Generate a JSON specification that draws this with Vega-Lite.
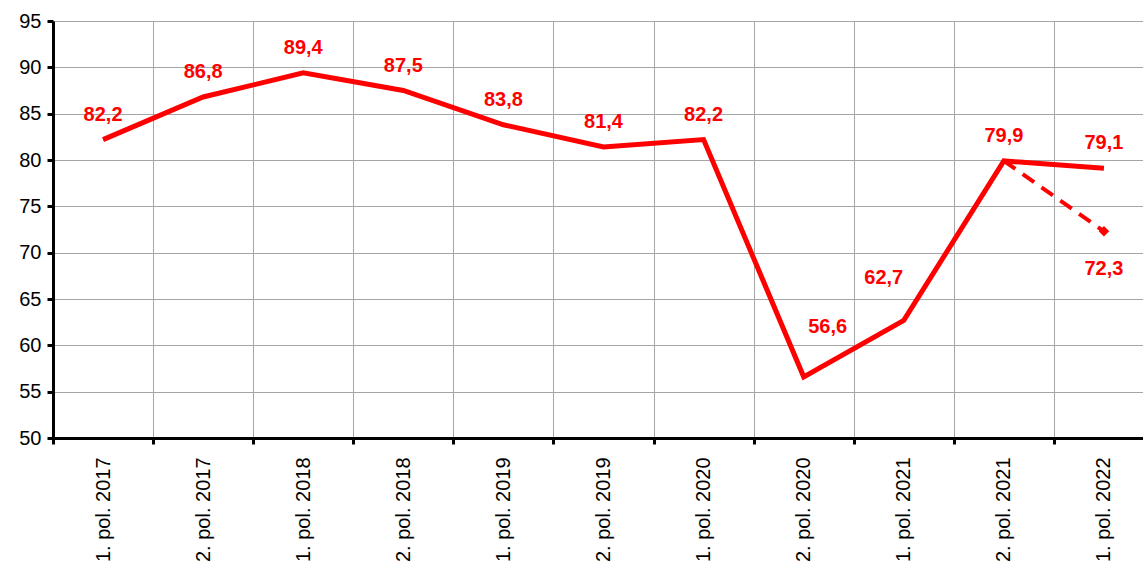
{
  "$schema": "https://vega.github.io/schema/vega-lite/v6.json",
  "width": 1090,
  "height": 417,
  "padding": {"left": 53, "top": 21, "right": 0, "bottom": 130},
  "autosize": {"type": "none"},
  "background": "white",
  "config": {
    "view": {"stroke": null},
    "locale": {"number": {"decimal": ",", "thousands": ".", "grouping": [3], "currency": ["", " €"]}},
    "axis": {"labelFont": "Liberation Sans", "labelColor": "black", "gridColor": "#a6a6a6", "gridWidth": 1, "domainColor": "black", "domainWidth": 3, "tickColor": "black", "tickWidth": 3, "tickSize": 6, "title": null}
  },
  "data": {
    "values": [
      {"period": "1. pol. 2017", "value": 82.2, "series": "actual"},
      {"period": "2. pol. 2017", "value": 86.8, "series": "actual"},
      {"period": "1. pol. 2018", "value": 89.4, "series": "actual"},
      {"period": "2. pol. 2018", "value": 87.5, "series": "actual"},
      {"period": "1. pol. 2019", "value": 83.8, "series": "actual"},
      {"period": "2. pol. 2019", "value": 81.4, "series": "actual"},
      {"period": "1. pol. 2020", "value": 82.2, "series": "actual"},
      {"period": "2. pol. 2020", "value": 56.6, "series": "actual"},
      {"period": "1. pol. 2021", "value": 62.7, "series": "actual"},
      {"period": "2. pol. 2021", "value": 79.9, "series": "actual"},
      {"period": "1. pol. 2022", "value": 79.1, "series": "actual"},
      {"period": "2. pol. 2021", "value": 79.9, "series": "scenario"},
      {"period": "1. pol. 2022", "value": 72.3, "series": "scenario"}
    ]
  },
  "encoding": {
    "x": {
      "field": "period", "type": "nominal",
      "sort": ["1. pol. 2017", "2. pol. 2017", "1. pol. 2018", "2. pol. 2018", "1. pol. 2019", "2. pol. 2019", "1. pol. 2020", "2. pol. 2020", "1. pol. 2021", "2. pol. 2021", "1. pol. 2022"],
      "scale": {"type": "band", "paddingInner": 0, "paddingOuter": 0, "range": [0, 1101]},
      "axis": {"labelAngle": -90, "labelAlign": "right", "labelBaseline": "middle", "labelFontSize": 20, "labelPadding": 13, "bandPosition": 0, "grid": true, "tickBand": "extent"}
    },
    "y": {
      "field": "value", "type": "quantitative",
      "scale": {"domain": [50, 95], "nice": false, "zero": false},
      "axis": {"values": [50, 55, 60, 65, 70, 75, 80, 85, 90, 95], "labelFontSize": 20, "labelPadding": 6, "grid": true}
    }
  },
  "layer": [
    {
      "transform": [{"filter": "datum.series == 'scenario'"}],
      "mark": {"type": "line", "color": "#ff0000", "strokeWidth": 4, "strokeDash": [14, 9]}
    },
    {
      "transform": [{"filter": "datum.series == 'actual'"}],
      "mark": {"type": "line", "color": "#ff0000", "strokeWidth": 5, "strokeJoin": "miter"}
    },
    {
      "transform": [{"filter": "datum.series == 'scenario' && datum.period == '1. pol. 2022'"}],
      "mark": {"type": "point", "shape": "diamond", "filled": true, "color": "#ff0000", "size": 110, "opacity": 1}
    },
    {
      "transform": [{"filter": "datum.series == 'actual' && datum.period != '2. pol. 2020' && datum.period != '1. pol. 2021'"}],
      "mark": {"type": "text", "color": "#ff0000", "font": "Liberation Sans", "fontWeight": "bold", "fontSize": 20, "dy": -25, "baseline": "middle"},
      "encoding": {"text": {"field": "value", "type": "quantitative", "format": ".1f"}}
    },
    {
      "transform": [{"filter": "datum.series == 'actual' && datum.period == '2. pol. 2020'"}],
      "mark": {"type": "text", "color": "#ff0000", "font": "Liberation Sans", "fontWeight": "bold", "fontSize": 20, "dx": 24, "dy": -50, "baseline": "middle"},
      "encoding": {"text": {"field": "value", "type": "quantitative", "format": ".1f"}}
    },
    {
      "transform": [{"filter": "datum.series == 'actual' && datum.period == '1. pol. 2021'"}],
      "mark": {"type": "text", "color": "#ff0000", "font": "Liberation Sans", "fontWeight": "bold", "fontSize": 20, "dx": -20, "dy": -42, "baseline": "middle"},
      "encoding": {"text": {"field": "value", "type": "quantitative", "format": ".1f"}}
    },
    {
      "transform": [{"filter": "datum.series == 'scenario' && datum.period == '1. pol. 2022'"}],
      "mark": {"type": "text", "color": "#ff0000", "font": "Liberation Sans", "fontWeight": "bold", "fontSize": 20, "dy": 38, "baseline": "middle"},
      "encoding": {"text": {"field": "value", "type": "quantitative", "format": ".1f"}}
    }
  ]
}
